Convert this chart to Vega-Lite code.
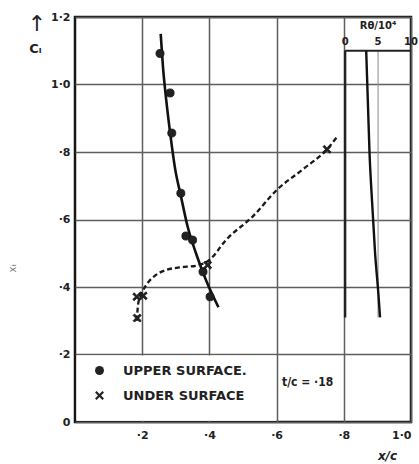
{
  "$schema": "https://vega.github.io/schema/vega-lite/v6.json",
  "width": 336,
  "height": 405,
  "autosize": "none",
  "padding": {"left": 75, "top": 17, "right": 8, "bottom": 42},
  "background": "white",
  "config": {
    "font": "DejaVu Sans",
    "view": {"stroke": "#151515", "strokeWidth": 2.5},
    "axis": {
      "domain": false,
      "ticks": false,
      "grid": true,
      "gridColor": "#5e5e5e",
      "gridWidth": 1.5,
      "labelFont": "DejaVu Sans",
      "labelFontWeight": "bold",
      "labelFontSize": 11,
      "labelColor": "#222",
      "titleFont": "DejaVu Sans",
      "titleFontWeight": "bold",
      "titleColor": "#222"
    }
  },
  "datasets": {
    "points": [
      {"series": "UPPER SURFACE.", "xc": 0.253, "cl": 1.092},
      {"series": "UPPER SURFACE.", "xc": 0.283, "cl": 0.975},
      {"series": "UPPER SURFACE.", "xc": 0.288, "cl": 0.856},
      {"series": "UPPER SURFACE.", "xc": 0.315, "cl": 0.678},
      {"series": "UPPER SURFACE.", "xc": 0.330, "cl": 0.551},
      {"series": "UPPER SURFACE.", "xc": 0.350, "cl": 0.539},
      {"series": "UPPER SURFACE.", "xc": 0.381, "cl": 0.445},
      {"series": "UPPER SURFACE.", "xc": 0.402, "cl": 0.371},
      {"series": "UNDER SURFACE", "xc": 0.185, "cl": 0.308},
      {"series": "UNDER SURFACE", "xc": 0.184, "cl": 0.371},
      {"series": "UNDER SURFACE", "xc": 0.203, "cl": 0.374},
      {"series": "UNDER SURFACE", "xc": 0.395, "cl": 0.465},
      {"series": "UNDER SURFACE", "xc": 0.750, "cl": 0.808}
    ],
    "upperCurve": [
      {"xc": 0.255, "cl": 1.15},
      {"xc": 0.262, "cl": 1.05},
      {"xc": 0.272, "cl": 0.95},
      {"xc": 0.284, "cl": 0.85},
      {"xc": 0.298, "cl": 0.75},
      {"xc": 0.315, "cl": 0.67},
      {"xc": 0.335, "cl": 0.58},
      {"xc": 0.360, "cl": 0.50},
      {"xc": 0.390, "cl": 0.42},
      {"xc": 0.427, "cl": 0.34}
    ],
    "underCurve": [
      {"xc": 0.184, "cl": 0.30},
      {"xc": 0.188, "cl": 0.35},
      {"xc": 0.198, "cl": 0.38},
      {"xc": 0.215, "cl": 0.41},
      {"xc": 0.240, "cl": 0.435},
      {"xc": 0.270, "cl": 0.45},
      {"xc": 0.310, "cl": 0.458},
      {"xc": 0.360, "cl": 0.463},
      {"xc": 0.400, "cl": 0.48},
      {"xc": 0.450, "cl": 0.54},
      {"xc": 0.530, "cl": 0.61},
      {"xc": 0.600, "cl": 0.687},
      {"xc": 0.680, "cl": 0.75},
      {"xc": 0.750, "cl": 0.808},
      {"xc": 0.780, "cl": 0.845}
    ],
    "legendBox": [{"xc": 0.005, "xc2": 0.597, "cl": 0.004, "cl2": 0.197}],
    "sideCurve": [
      {"R": 3.2, "cl": 1.10},
      {"R": 3.45, "cl": 0.95},
      {"R": 3.7, "cl": 0.80},
      {"R": 4.1, "cl": 0.65},
      {"R": 4.55, "cl": 0.50},
      {"R": 5.05, "cl": 0.38},
      {"R": 5.3, "cl": 0.31}
    ],
    "sideZero": [{"R": 0, "cl": 0.31, "cl2": 1.10}],
    "sideGrid": [{"R": 5, "cl": 0.31, "cl2": 1.10}],
    "sideBracket": [{"R": 0, "R2": 10, "cl": 1.10}],
    "sideTicks": [{"R": 0, "t": "0"}, {"R": 5, "t": "5"}, {"R": 10, "t": "10"}],
    "one": [{}]
  },
  "layer": [
    {
      "layer": [
        {
          "data": {"name": "legendBox"},
          "mark": {"type": "rect", "fill": "white"},
          "encoding": {
            "x": {
              "field": "xc", "type": "quantitative",
              "scale": {"domain": [0, 1], "nice": false, "zero": false},
              "axis": {
                "values": [0.2, 0.4, 0.6, 0.8, 1.0],
                "labelExpr": "datum.value < 0.99 ? '·' + format(datum.value * 10, '.0f') : '1·0'",
                "labelPadding": 7,
                "title": "x/c",
                "titleFontSize": 12,
                "titleFontStyle": "italic",
                "titleX": 312,
                "titleY": 33,
                "titleAlign": "center",
                "titleBaseline": "middle"
              }
            },
            "x2": {"field": "xc2"},
            "y": {
              "field": "cl", "type": "quantitative",
              "scale": {"domain": [0, 1.2], "nice": false, "zero": false},
              "axis": {
                "values": [0, 0.2, 0.4, 0.6, 0.8, 1.0, 1.2],
                "labelExpr": "datum.value == 0 ? '0' : datum.value < 0.99 ? '·' + format(datum.value * 10, '.0f') : replace(format(datum.value, '.1f'), '.', '·')",
                "labelPadding": 5,
                "title": "Cₗ",
                "titleFontSize": 13,
                "titleAngle": 0,
                "titleX": -40,
                "titleY": 31,
                "titleAlign": "center",
                "titleBaseline": "middle"
              }
            },
            "y2": {"field": "cl2"}
          }
        },
        {
          "data": {"name": "upperCurve"},
          "mark": {"type": "line", "interpolate": "monotone", "color": "#111", "strokeWidth": 2.6},
          "encoding": {
            "x": {"field": "xc", "type": "quantitative"},
            "y": {"field": "cl", "type": "quantitative"}
          }
        },
        {
          "data": {"name": "underCurve"},
          "mark": {"type": "line", "interpolate": "monotone", "color": "#1a1a1a", "strokeWidth": 2.3, "strokeDash": [5, 3]},
          "encoding": {
            "x": {"field": "xc", "type": "quantitative"},
            "y": {"field": "cl", "type": "quantitative"}
          }
        },
        {
          "data": {"name": "points"},
          "mark": {"type": "point", "filled": true, "fill": "#222", "stroke": "#111", "strokeWidth": 0.8, "opacity": 1, "size": 65},
          "encoding": {
            "x": {"field": "xc", "type": "quantitative"},
            "y": {"field": "cl", "type": "quantitative"},
            "shape": {
              "field": "series", "type": "nominal",
              "scale": {"domain": ["UPPER SURFACE.", "UNDER SURFACE"], "range": ["circle", "M-1,-0.65L-0.65,-1L0,-0.35L0.65,-1L1,-0.65L0.35,0L1,0.65L0.65,1L0,0.35L-0.65,1L-1,0.65L-0.35,0Z"]},
              "legend": {
                "orient": "none",
                "legendX": 18,
                "legendY": 347,
                "title": null,
                "padding": 0,
                "symbolSize": 80,
                "symbolStrokeWidth": 0.8,
                "symbolFillColor": "#222",
                "symbolStrokeColor": "#111",
                "labelFont": "DejaVu Sans",
                "labelFontWeight": "bold",
                "labelFontSize": 13,
                "labelColor": "#222",
                "labelOffset": 17,
                "rowPadding": 11
              }
            }
          }
        },
        {
          "data": {"name": "one"},
          "mark": {"type": "text", "text": "↑", "fontSize": 22, "color": "#222", "baseline": "middle", "align": "center"},
          "encoding": {
            "x": {"datum": -0.113, "type": "quantitative"},
            "y": {"datum": 1.18, "type": "quantitative"}
          }
        },
        {
          "data": {"name": "one"},
          "mark": {"type": "text", "text": "xₜ", "fontSize": 10, "color": "#777", "angle": 270, "baseline": "middle", "align": "center"},
          "encoding": {
            "x": {"datum": -0.185, "type": "quantitative"},
            "y": {"datum": 0.456, "type": "quantitative"}
          }
        },
        {
          "data": {"name": "one"},
          "mark": {"type": "text", "text": "t/c = ·18", "font": "DejaVu Sans Condensed", "fontWeight": "bold", "fontSize": 12, "color": "#222", "baseline": "middle", "align": "left"},
          "encoding": {
            "x": {"datum": 0.616, "type": "quantitative"},
            "y": {"datum": 0.119, "type": "quantitative"}
          }
        }
      ]
    },
    {
      "layer": [
        {
          "data": {"name": "sideGrid"},
          "mark": {"type": "rule", "color": "#888", "strokeWidth": 1},
          "encoding": {
            "x": {"field": "R", "type": "quantitative", "scale": {"domain": [-41, 10], "nice": false, "zero": false}, "axis": null},
            "y": {"field": "cl", "type": "quantitative"},
            "y2": {"field": "cl2"}
          }
        },
        {
          "data": {"name": "sideZero"},
          "mark": {"type": "rule", "color": "#222", "strokeWidth": 2.4},
          "encoding": {
            "x": {"field": "R", "type": "quantitative"},
            "y": {"field": "cl", "type": "quantitative"},
            "y2": {"field": "cl2"}
          }
        },
        {
          "data": {"name": "sideBracket"},
          "mark": {"type": "rule", "color": "#222", "strokeWidth": 2},
          "encoding": {
            "x": {"field": "R", "type": "quantitative"},
            "x2": {"field": "R2"},
            "y": {"field": "cl", "type": "quantitative"}
          }
        },
        {
          "data": {"name": "sideCurve"},
          "mark": {"type": "line", "interpolate": "monotone", "color": "#111", "strokeWidth": 2.4},
          "encoding": {
            "x": {"field": "R", "type": "quantitative"},
            "y": {"field": "cl", "type": "quantitative"}
          }
        },
        {
          "data": {"name": "sideTicks"},
          "mark": {"type": "text", "fontWeight": "bold", "fontSize": 10, "color": "#222", "baseline": "middle", "align": "center"},
          "encoding": {
            "x": {"field": "R", "type": "quantitative"},
            "y": {"datum": 1.125, "type": "quantitative"},
            "text": {"field": "t"}
          }
        },
        {
          "data": {"name": "one"},
          "mark": {"type": "text", "text": "Rθ/10⁴", "fontWeight": "bold", "fontSize": 10, "color": "#222", "baseline": "middle", "align": "center"},
          "encoding": {
            "x": {"datum": 5, "type": "quantitative"},
            "y": {"datum": 1.172, "type": "quantitative"}
          }
        }
      ]
    }
  ],
  "resolve": {"scale": {"x": "independent"}, "axis": {"x": "independent"}}
}
